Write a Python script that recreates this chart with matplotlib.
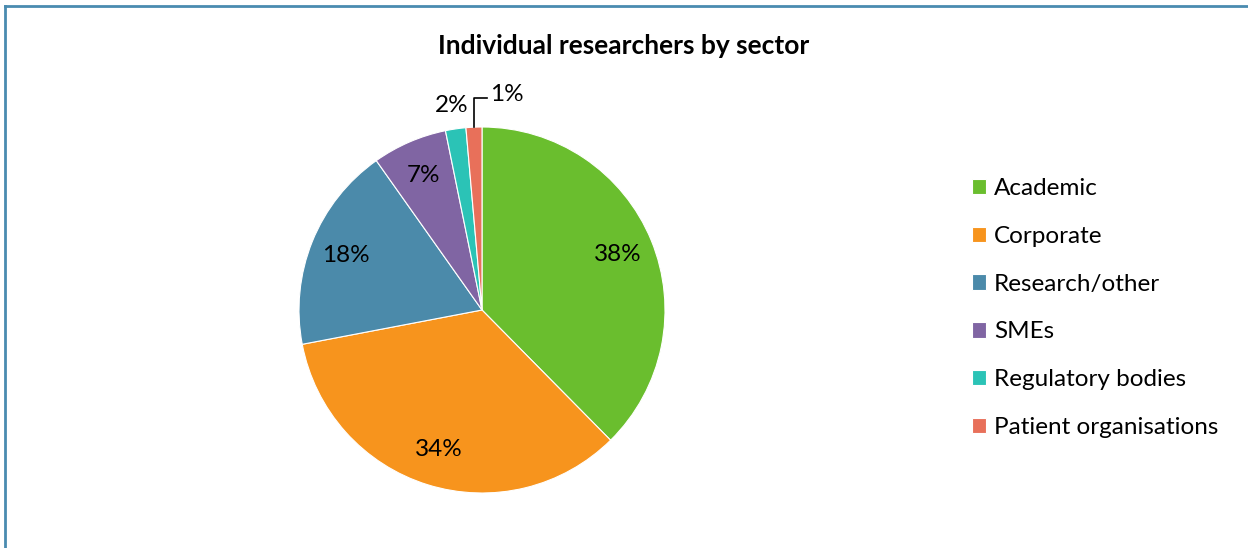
import numpy as np
import matplotlib.pyplot as plt

plt.rcParams['font.family'] = ['Lato', 'DejaVu Sans']

# 分野別の割合(%)  ラベルは整数に丸めて表示
sectors = ["Academic", "Corporate", "Research/other", "SMEs",
           "Regulatory bodies", "Patient organisations"]
shares = [37.6, 34.4, 18.2, 6.6, 1.8, 1.4]
colors = ["#6abe2e", "#f7941d", "#4b8aaa", "#8065a3", "#2bc3b6", "#e8705a"]

fig = plt.figure(figsize=(12.48, 5.48), dpi=100)

# 枠線(上と左だけ)
fig.add_artist(plt.Line2D([4.5/1248, 4.5/1248], [0, 1-6/548], color="#4a8bb0", lw=2))
fig.add_artist(plt.Line2D([4.5/1248, 1], [1-6/548, 1-6/548], color="#4a8bb0", lw=2))

cx, cy, r = 482/1248, (548-310)/548, 183
ax = fig.add_axes([cx - r/1248, cy - r/548, 2*r/1248, 2*r/548])

wedges, texts, autotexts = ax.pie(shares, colors=colors, startangle=90, counterclock=False,
                                  autopct=lambda p: "%.0f%%" % p, pctdistance=0.8,
                                  wedgeprops=dict(edgecolor="white", linewidth=0.8),
                                  textprops=dict(fontsize=17.5, color="black"))
ax.set_xlim(-1, 1)
ax.set_ylim(-1, 1)

# 小さい扇形のラベルは外側へ
mid = [np.deg2rad((w.theta1 + w.theta2) / 2) for w in wedges]
autotexts[4].set_position((1.14*np.cos(mid[4]), 1.13*np.sin(mid[4])))
a = mid[5]
ax.plot([np.cos(a), np.cos(a), np.cos(a) + 0.07], [np.sin(a), 1.16, 1.16],
        color="black", lw=1.2, clip_on=False)
autotexts[5].set_position((np.cos(a) + 0.09, 1.18))
autotexts[5].set_ha("left")

fig.text(0.5, 1 - 46/548, "Individual researchers by sector", ha="center", va="center",
         fontsize=19, fontweight="bold")

fig.legend(wedges, sectors, loc="center left", bbox_to_anchor=(950/1248, 1 - 308/548),
           frameon=False, fontsize=17.5, handlelength=0.6, handleheight=0.6,
           handletextpad=0.3, labelspacing=1.1)

plt.savefig("out.png", dpi=100)
